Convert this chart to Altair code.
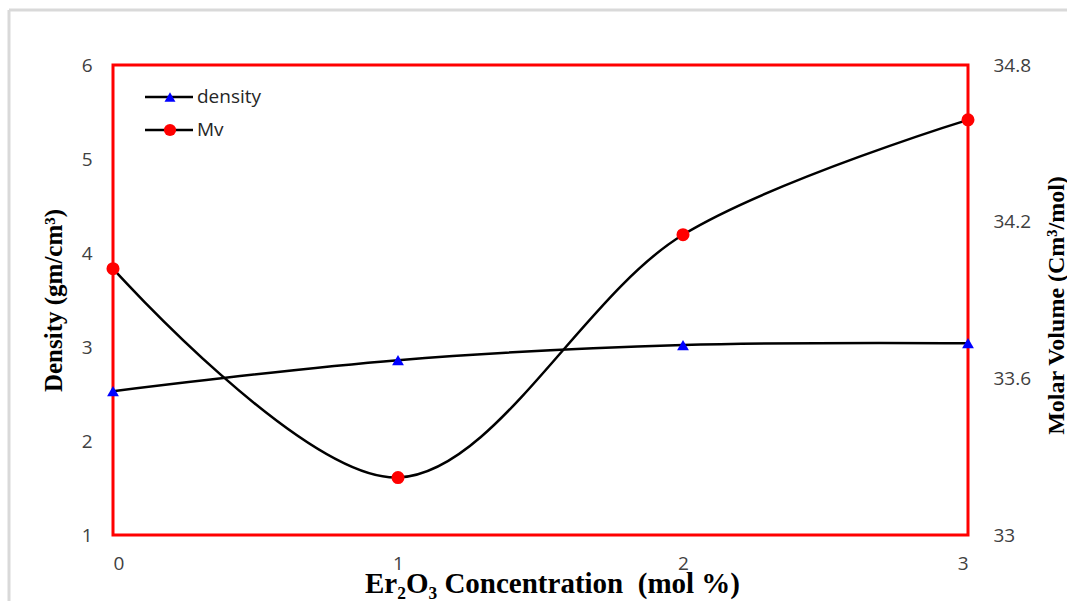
import altair as alt
import pandas as pd

# Er2O3 content of the glass series
concentration = [0, 1, 2, 3]
# Density (g/cm3) and molar volume (cm3/mol)
density = [2.53, 2.86, 3.02, 3.04]
molar_volume = [34.02, 33.22, 34.15, 34.59]

legend_names = ["density", "Mv"]

df = pd.DataFrame({"conc": concentration, "density": density, "mv": molar_volume})

W, H = 855, 470
LABEL_FONT = "Open Sans"
TITLE_FONT = "Liberation Serif"
LABEL_COLOR = "#404040"
LABEL_SIZE = 19

x_enc = alt.X(
    "conc:Q",
    scale=alt.Scale(domain=[0, 3], nice=False, zero=False),
    axis=alt.Axis(
        values=[0, 1, 2, 3], format="d", title="Er₂O₃ Concentration\u00a0\u00a0(mol %)",
        domain=False, ticks=False, grid=False, labelPadding=19,
        labelFont=LABEL_FONT, labelFontSize=LABEL_SIZE, labelColor=LABEL_COLOR,
        titleFont=TITLE_FONT, titleFontSize=29, titleFontWeight="bold", titleColor="black",
        titleX=439, titleY=48, titleBaseline="middle", titleAlign="center",
    ),
)

dens_y = alt.Y(
    "density:Q",
    scale=alt.Scale(domain=[1, 6], nice=False, zero=False),
    axis=alt.Axis(
        orient="left", values=[1, 2, 3, 4, 5, 6], title="Density (gm/cm³)",
        domain=False, ticks=False, grid=False, labelPadding=21,
        labelFont=LABEL_FONT, labelFontSize=LABEL_SIZE, labelColor=LABEL_COLOR,
        titleFont=TITLE_FONT, titleFontSize=25, titleFontWeight="bold", titleColor="black",
        titleAngle=-90, titleX=-60, titleY=235, titleBaseline="middle", titleAlign="center",
    ),
)

mv_y = alt.Y(
    "mv:Q",
    scale=alt.Scale(domain=[33, 34.8], nice=False, zero=False),
    axis=alt.Axis(
        orient="right", values=[33, 33.6, 34.2, 34.8], format=".1~f",
        title="Molar Volume (Cm³/mol)",
        domain=False, ticks=False, grid=False, labelPadding=25,
        labelFont=LABEL_FONT, labelFontSize=LABEL_SIZE, labelColor=LABEL_COLOR,
        titleFont=TITLE_FONT, titleFontSize=24, titleFontWeight="bold", titleColor="black",
        titleAngle=-90, titleX=88, titleY=240, titleBaseline="middle", titleAlign="center",
    ),
)

base = alt.Chart(df)

dens_layer = alt.layer(
    base.mark_line(color="black", strokeWidth=2.5, interpolate="catmull-rom").encode(x=x_enc, y=dens_y),
    base.mark_point(shape="triangle-up", filled=True, color="#0000ff", size=140, opacity=1).encode(x=x_enc, y=dens_y),
)

mv_layer = alt.layer(
    base.mark_line(color="black", strokeWidth=2.5, interpolate="catmull-rom").encode(x=x_enc, y=mv_y),
    base.mark_point(shape="circle", filled=True, color="#ff0000", size=170, opacity=1).encode(x=x_enc, y=mv_y),
)

# Legend drawn inside the plot, upper-left
leg = pd.DataFrame({"name": legend_names})
leg_y = [32, 65]
legend_layers = []
for i, (name, shape, col, sz) in enumerate(
    [(legend_names[0], "triangle-up", "#0000ff", 120), (legend_names[1], "circle", "#ff0000", 150)]
):
    one = alt.Chart(leg[leg["name"] == name])
    legend_layers += [
        one.mark_rule(color="black", strokeWidth=2.5).encode(
            x=alt.value(32), x2=alt.value(80), y=alt.value(leg_y[i])
        ),
        one.mark_point(shape=shape, filled=True, color=col, size=sz, opacity=1).encode(
            x=alt.value(57), y=alt.value(leg_y[i])
        ),
        one.mark_text(align="left", baseline="middle", font=LABEL_FONT, fontSize=19, color="#262626").encode(
            x=alt.value(84), y=alt.value(leg_y[i]), text="name:N"
        ),
    ]

# Light grey outer frame of the figure
frame = [
    alt.Chart(leg.head(1)).mark_rule(color="#d9d9d9", strokeWidth=3).encode(
        x=alt.value(-104), x2=alt.value(1000), y=alt.value(-55)
    ),
    alt.Chart(leg.head(1)).mark_rule(color="#d9d9d9", strokeWidth=3).encode(
        x=alt.value(-104), y=alt.value(-55), y2=alt.value(600)
    ),
]

chart = (
    alt.layer(dens_layer, mv_layer, *legend_layers, *frame)
    .resolve_scale(y="independent")
    .properties(
        width=W, height=H,
        autosize=alt.AutoSizeParams(type="none"),
        padding={"left": 113, "top": 65, "right": 99, "bottom": 66},
        background="white",
    )
    .configure_view(stroke="#ff0000", strokeWidth=3)
)

chart.save("out.html", embed_options={"renderer": "svg", "actions": False})
